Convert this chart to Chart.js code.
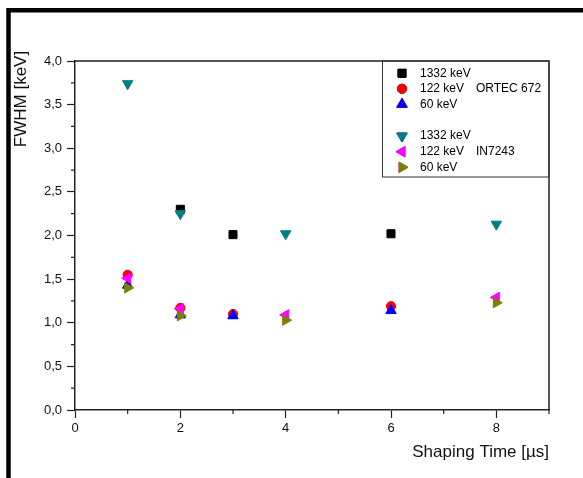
<!DOCTYPE html>
<html>
<head>
<meta charset="utf-8">
<script src="https://cdn.jsdelivr.net/npm/chart.js@4.4.0/dist/chart.umd.min.js"></script>
<style>
  html, body { margin: 0; padding: 0; background: #fff; }
  canvas { display: block; }
</style>
</head>
<body>
<canvas id="fwhmChart" width="583" height="478"></canvas>
<script>
// shaping times (µs) per series
const ortec1332Times = [2, 3, 6];
const ortecTimes = [1, 2, 3, 6];
const in7243Times = [1, 2, 4, 8];

// FWHM (keV)
const ortec1332 = [2.30, 2.01, 2.02];
const ortec122 = [1.55, 1.17, 1.10, 1.19];
const ortec60 = [1.43, 1.09, 1.08, 1.14];
const in1332 = [3.74, 2.25, 2.02, 2.13];
const in122 = [1.51, 1.16, 1.09, 1.29];
const in60 = [1.40, 1.08, 1.03, 1.23];

const seriesLabels = ['1332 keV', '122 keV', '60 keV'];
const groupLabels = ['ORTEC 672', 'IN7243'];
const xTickLabels = ['0', '2', '4', '6', '8'];
const yTickLabels = ['0,0', '0,5', '1,0', '1,5', '2,0', '2,5', '3,0', '3,5', '4,0'];
const xTitle = 'Shaping Time [µs]';
const yTitle = 'FWHM [keV]';

const FONT = '"Liberation Sans", Arial, sans-serif';
const AXIS = '#222';

function series(label, xs, ys, color, style, rotation, radius, order) {
    return {
        label: label,
        data: xs.map((x, i) => ({x: x, y: ys[i]})),
        pointStyle: style,
        rotation: rotation,
        pointRadius: radius,
        backgroundColor: color,
        borderColor: color,
        borderWidth: 1,
        showLine: false,
        order: order
    };
}

const datasets = [
    series(seriesLabels[0], ortec1332Times, ortec1332, '#000000', 'rect', 0, 5.7, 6),
    series(seriesLabels[1], ortecTimes, ortec122, '#ff0000', 'circle', 0, 4.6, 5),
    series(seriesLabels[2], ortecTimes, ortec60, '#0000ff', 'triangle', 0, 6, 4),
    series(seriesLabels[0], in7243Times, in1332, '#008080', 'triangle', 180, 6, 3),
    series(seriesLabels[1], in7243Times, in122, '#ff00ff', 'triangle', -90, 6, 2),
    series(seriesLabels[2], in7243Times, in60, '#808000', 'triangle', 90, 6, 1)
];

// minor ticks, frame, titles and the two-group legend box
const decorations = {
    id: 'decorations',
    beforeDraw(chart) {
        const ctx = chart.ctx;
        ctx.save();
        ctx.fillStyle = '#fff';
        ctx.fillRect(0, 0, chart.width, chart.height);
        ctx.strokeStyle = '#000';
        ctx.lineWidth = 4.5;
        ctx.beginPath();
        ctx.moveTo(8.5, chart.height);
        ctx.lineTo(8.5, 10.3);
        ctx.lineTo(chart.width, 10.3);
        ctx.stroke();
        ctx.restore();
    },
    afterDraw(chart) {
        const {ctx, chartArea: a, scales: {x, y}} = chart;
        ctx.save();
        ctx.strokeStyle = AXIS;
        ctx.lineWidth = 1.5;
        ctx.beginPath();
        ctx.moveTo(a.left, a.top);
        ctx.lineTo(a.right, a.top);
        ctx.lineTo(a.right, a.bottom);
        ctx.stroke();

        // minor ticks
        ctx.lineWidth = 1.2;
        ctx.beginPath();
        x.ticks.forEach(t => {
            if (t.value % 2 !== 0) {
                const px = x.getPixelForValue(t.value);
                ctx.moveTo(px, a.bottom);
                ctx.lineTo(px, a.bottom + 4);
            }
        });
        y.ticks.forEach(t => {
            if (Math.round(t.value * 4) % 2 !== 0) {
                const py = y.getPixelForValue(t.value);
                ctx.moveTo(a.left, py);
                ctx.lineTo(a.left - 4, py);
            }
        });
        ctx.stroke();

        // axis titles
        ctx.fillStyle = '#111';
        ctx.font = '17px ' + FONT;
        ctx.textBaseline = 'middle';
        ctx.textAlign = 'right';
        ctx.fillText(xTitle, a.right, 452);
        ctx.save();
        ctx.translate(21, 99);
        ctx.rotate(-Math.PI / 2);
        ctx.textAlign = 'center';
        ctx.fillText(yTitle, 0, 0);
        ctx.restore();

        // legend
        ctx.lineWidth = 1;
        ctx.strokeStyle = '#333';
        ctx.strokeRect(382.5, a.top, a.right - 382.5, 116);
        const rows = [73.3, 88.8, 104.3, 136, 151.7, 167.3];
        ctx.font = '12px ' + FONT;
        ctx.textAlign = 'left';
        ctx.fillStyle = '#000';
        chart.data.datasets.forEach((ds, i) => {
            Chart.helpers.drawPoint(ctx, {
                pointStyle: ds.pointStyle,
                rotation: ds.rotation,
                radius: ds.pointRadius,
                borderWidth: 1
            }, 402, rows[i]);
            ctx.fillStyle = ds.backgroundColor;
            ctx.strokeStyle = ds.borderColor;
            ctx.fill();
            ctx.stroke();
            ctx.fillStyle = '#000';
            ctx.fillText(ds.label, 420, rows[i]);
        });
        ctx.fillText(groupLabels[0], 476, rows[1]);
        ctx.fillText(groupLabels[1], 476, rows[4]);
        ctx.restore();
    }
};

new Chart(document.getElementById('fwhmChart').getContext('2d'), {
    type: 'scatter',
    data: { datasets: datasets },
    plugins: [decorations],
    options: {
        responsive: false,
        animation: false,
        devicePixelRatio: 1,
        layout: { padding: { left: 0, top: 61, right: 34, bottom: 0 } },
        plugins: {
            legend: { display: false },
            tooltip: { enabled: false }
        },
        scales: {
            x: {
                type: 'linear',
                min: 0,
                max: 9,
                afterFit: s => { s.height = 68; },
                border: { color: AXIS, width: 1.5 },
                grid: {
                    drawOnChartArea: false,
                    tickLength: 8,
                    tickWidth: 1.2,
                    tickColor: c => (c.tick && c.tick.value % 2 === 0) ? AXIS : 'rgba(0,0,0,0)'
                },
                ticks: {
                    stepSize: 1,
                    autoSkip: false,
                    maxRotation: 0,
                    padding: 3,
                    color: '#111',
                    font: { family: FONT, size: 13 },
                    callback: v => (v % 2 === 0 && xTickLabels[v / 2] !== undefined) ? xTickLabels[v / 2] : ''
                }
            },
            y: {
                min: 0,
                max: 4,
                afterFit: s => { s.width = 75; },
                border: { color: AXIS, width: 1.5 },
                grid: {
                    drawOnChartArea: false,
                    tickLength: 8,
                    tickWidth: 1.2,
                    tickColor: c => (c.tick && Math.round(c.tick.value * 4) % 2 === 0) ? AXIS : 'rgba(0,0,0,0)'
                },
                ticks: {
                    stepSize: 0.25,
                    autoSkip: false,
                    padding: 5,
                    color: '#111',
                    font: { family: FONT, size: 13 },
                    callback: v => {
                        const k = Math.round(v * 4);
                        return k % 2 === 0 ? yTickLabels[k / 2] : '';
                    }
                }
            }
        }
    }
});
</script>
</body>
</html>
